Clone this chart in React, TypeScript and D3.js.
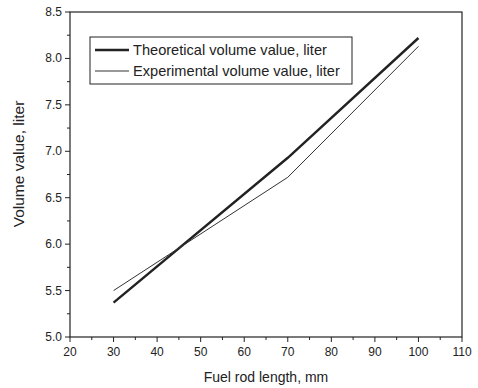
import * as d3 from "d3";

const lengths = [30, 70, 100];
const theoretical = [5.37, 6.93, 8.22];
const experimental = [5.5, 6.72, 8.13];
const xTicks = [20, 30, 40, 50, 60, 70, 80, 90, 100, 110];
const yTicks = [5.0, 5.5, 6.0, 6.5, 7.0, 7.5, 8.0, 8.5];
const seriesNames = ["Theoretical volume value, liter", "Experimental volume value, liter"];

export default function App() {
  const width = 478;
  const height = 388;
  const margin = { top: 12, right: 16, bottom: 51, left: 70 };
  const x = d3.scaleLinear().domain([20, 110]).range([margin.left, width - margin.right]);
  const y = d3.scaleLinear().domain([5, 8.5]).range([height - margin.bottom, margin.top]);

  const line = d3
    .line<number>()
    .x((_, i) => x(lengths[i]))
    .y((d) => y(d));

  const minorX = d3.range(25, 110, 10);
  const minorY = d3.range(5.25, 8.5, 0.5);
  const font = "'Liberation Sans', Arial, sans-serif";
  const ink = "#222";

  return (
    <svg
      width={width}
      height={height}
      style={{ position: "absolute", left: 0, top: 0, background: "#fff" }}
      fontFamily={font}
    >
      <rect
        x={x(20)}
        y={y(8.5)}
        width={x(110) - x(20)}
        height={y(5) - y(8.5)}
        fill="none"
        stroke={ink}
        strokeWidth={1.2}
      />
      {xTicks.map((t) => (
        <g key={"x" + t}>
          <line x1={x(t)} x2={x(t)} y1={y(5)} y2={y(5) + 5} stroke={ink} />
          <text x={x(t)} y={y(5) + 19} fontSize={12} textAnchor="middle" fill={ink}>
            {t}
          </text>
        </g>
      ))}
      {minorX.map((t) => (
        <line key={"mx" + t} x1={x(t)} x2={x(t)} y1={y(5)} y2={y(5) + 3} stroke={ink} />
      ))}
      {yTicks.map((t) => (
        <g key={"y" + t}>
          <line x1={x(20) - 5} x2={x(20)} y1={y(t)} y2={y(t)} stroke={ink} />
          <text x={x(20) - 8} y={y(t) + 4} fontSize={12} textAnchor="end" fill={ink}>
            {t.toFixed(1)}
          </text>
        </g>
      ))}
      {minorY.map((t) => (
        <line key={"my" + t} x1={x(20) - 3} x2={x(20)} y1={y(t)} y2={y(t)} stroke={ink} />
      ))}
      <path d={line(theoretical) ?? ""} fill="none" stroke={ink} strokeWidth={2.4} />
      <path d={line(experimental) ?? ""} fill="none" stroke="#333" strokeWidth={1} />

      <rect x={90} y={37} width={262} height={47} fill="#fff" stroke={ink} strokeWidth={1} />
      <line x1={95} x2={129} y1={50} y2={50} stroke={ink} strokeWidth={2.4} />
      <line x1={95} x2={129} y1={71} y2={71} stroke="#333" strokeWidth={1} />
      <text x={133} y={55} fontSize={14.6} fill={ink}>
        {seriesNames[0]}
      </text>
      <text x={133} y={76} fontSize={14.6} fill={ink}>
        {seriesNames[1]}
      </text>

      <text
        x={(x(20) + x(110)) / 2}
        y={382}
        fontSize={14}
        textAnchor="middle"
        fill={ink}
      >
        Fuel rod length, mm
      </text>
      <text
        transform={`translate(24,164) rotate(-90)`}
        fontSize={15.5}
        textAnchor="middle"
        fill={ink}
      >
        Volume value, liter
      </text>
    </svg>
  );
}
